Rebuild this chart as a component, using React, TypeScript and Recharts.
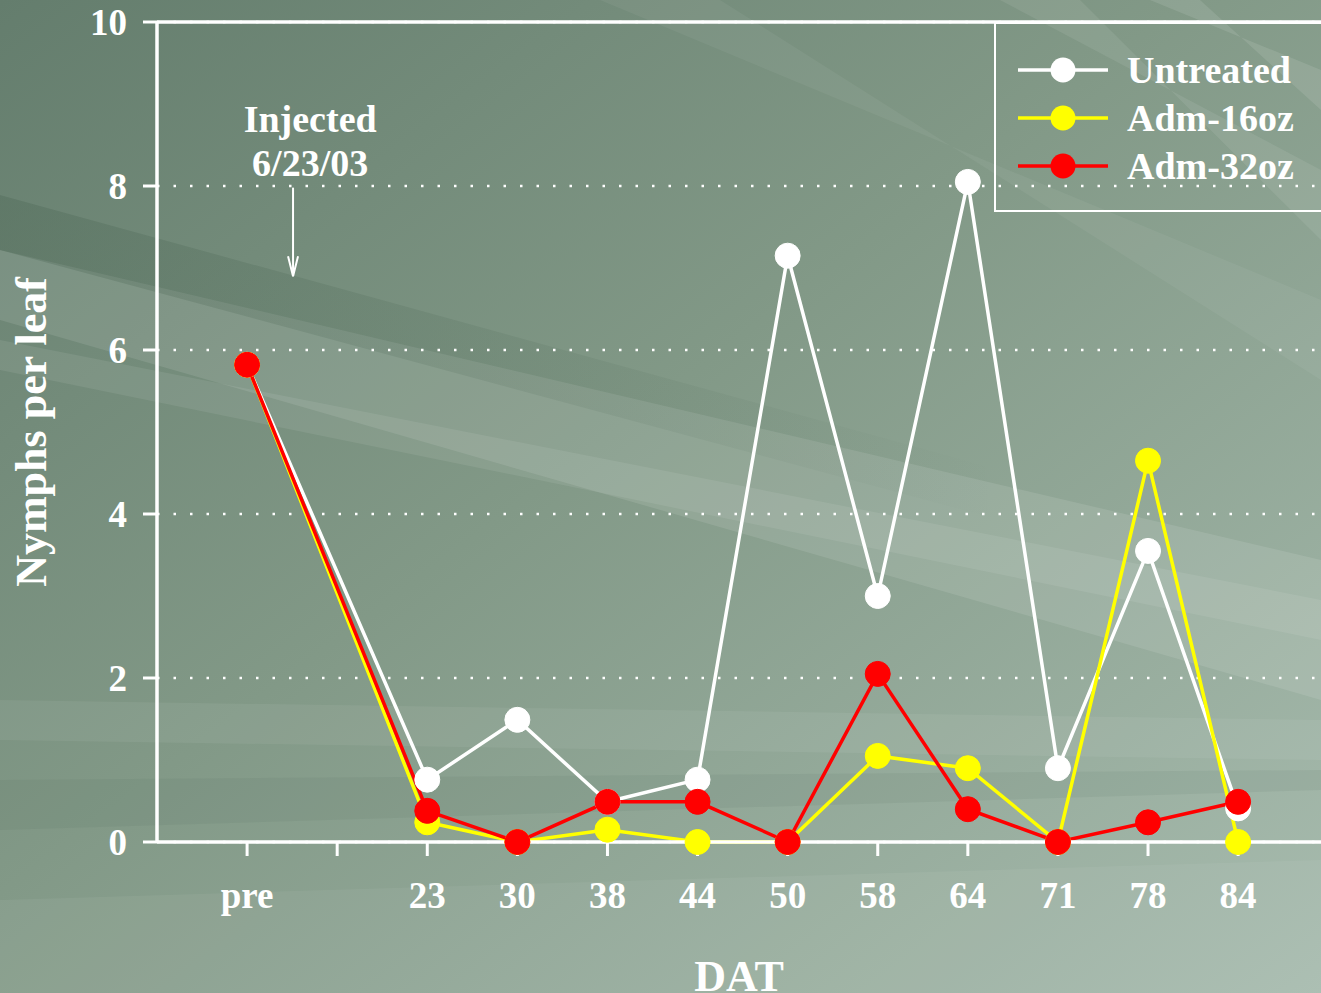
import React from "react";
import {
  LineChart,
  Line,
  XAxis,
  YAxis,
  CartesianGrid,
  Legend,
  ReferenceLine,
  ReferenceDot,
} from "recharts";

// x positions: 0 = pre, 1 = empty slot, 2.. = days after treatment
const tickLabels = ["pre", "", "23", "30", "38", "44", "50", "58", "64", "71", "78", "84"];
const pointIdx = [0, 2, 3, 4, 5, 6, 7, 8, 9, 10, 11];

const untreated = [5.82, 0.76, 1.49, 0.49, 0.76, 7.15, 3.0, 8.05, 0.9, 3.55, 0.41];
const adm16 = [5.82, 0.24, 0, 0.15, 0, 0, 1.05, 0.9, 0, 4.65, 0];
const adm32 = [5.82, 0.38, 0, 0.49, 0.49, 0, 2.05, 0.4, 0, 0.24, 0.49];

const yTicks = [0, 2, 4, 6, 8, 10];

const data = pointIdx.map((idx, i) => ({
  idx,
  untreated: untreated[i],
  adm16: adm16[i],
  adm32: adm32[i],
}));

const FONT = "'Liberation Serif', 'Times New Roman', serif";
const WHITE = "#ffffff";

const series = [
  { key: "untreated", name: "Untreated", color: "#ffffff" },
  { key: "adm16", name: "Adm-16oz", color: "#ffff00" },
  { key: "adm32", name: "Adm-32oz", color: "#ff0000" },
];

function LegendBox() {
  return (
    <div
      style={{
        border: "2px solid #fff",
        borderRight: "none",
        height: 190,
        boxSizing: "border-box",
        paddingTop: 22,
      }}
    >
      {series.map((s) => (
        <div
          key={s.key}
          style={{ display: "flex", alignItems: "center", height: 48 }}
        >
          <svg width={131} height={30} style={{ flex: "none" }}>
            <line x1={22} y1={15} x2={112} y2={15} stroke={s.color} strokeWidth={3.5} />
            <circle cx={67} cy={15} r={12.5} fill={s.color} />
          </svg>
          <span
            style={{
              color: "#fff",
              fontFamily: FONT,
              fontWeight: "bold",
              fontSize: 38,
              lineHeight: "48px",
            }}
          >
            {s.name}
          </span>
        </div>
      ))}
    </div>
  );
}

function Background() {
  return (
    <svg
      width={1321}
      height={993}
      style={{ position: "absolute", left: 0, top: 0 }}
    >
      <defs>
        <linearGradient id="bg" x1="0" y1="0" x2="1" y2="1">
          <stop offset="0" stopColor="#647d6d" />
          <stop offset="0.45" stopColor="#829987" />
          <stop offset="1" stopColor="#a8bcaf" />
        </linearGradient>
        <linearGradient id="fadeR" x1="0" y1="0" x2="1" y2="0">
          <stop offset="0" stopColor="#3f5a48" stopOpacity={0.25} />
          <stop offset="1" stopColor="#3f5a48" stopOpacity={0} />
        </linearGradient>
      </defs>
      <rect width={1321} height={993} fill="url(#bg)" />
      <polygon points="0,250 0,320 1321,700 1321,560" fill="#ffffff" opacity={0.1} />
      <polygon points="0,340 0,370 1321,640 1321,600" fill="#ffffff" opacity={0.08} />
      <polygon points="0,195 0,250 1000,520 1000,470" fill="url(#fadeR)" />
      <polygon points="0,700 0,740 1321,760 1321,720" fill="#ffffff" opacity={0.06} />
      <polygon points="0,780 0,830 1321,790 1321,770" fill="#3f5a48" opacity={0.08} />
      <polygon points="1000,0 1080,0 1321,240 1321,170" fill="#ffffff" opacity={0.08} />
      <polygon points="1150,0 1200,0 1321,110 1321,70" fill="#ffffff" opacity={0.1} />
      <polygon points="600,0 720,0 1321,380 1321,300" fill="#ffffff" opacity={0.05} />
      <polygon points="0,900 0,993 1321,993 1321,860" fill="#ffffff" opacity={0.05} />
    </svg>
  );
}

export default function App() {
  return (
    <div
      style={{
        position: "absolute",
        left: 0,
        top: 0,
        width: 1321,
        height: 993,
        overflow: "hidden",
      }}
    >
      <Background />
      <div style={{ position: "absolute", left: 0, top: 0 }}>
        <LineChart
          width={1321}
          height={993}
          data={data}
          margin={{ top: 22, right: 0, left: 0, bottom: 0 }}
        >
          <CartesianGrid
            vertical={false}
            stroke={WHITE}
            strokeWidth={2.5}
            strokeDasharray="2.5 14"
          />
          <XAxis
            dataKey="idx"
            type="number"
            domain={[-1, 11.92]}
            ticks={tickLabels.map((_, i) => i)}
            tickFormatter={(v: number) => tickLabels[v] ?? ""}
            allowDataOverflow
            height={151}
            axisLine={{ stroke: WHITE, strokeWidth: 3.5 }}
            tickLine={{ stroke: WHITE, strokeWidth: 3 }}
            tickSize={14}
            tickMargin={26}
            tick={{ fill: WHITE, fontFamily: FONT, fontWeight: "bold", fontSize: 37 }}
            label={{
              value: "DAT",
              position: "insideBottom",
              offset: 2,
              fill: WHITE,
              fontFamily: FONT,
              fontWeight: "bold",
              fontSize: 44,
            }}
          />
          <YAxis
            domain={[0, 10]}
            ticks={yTicks}
            width={157}
            axisLine={{ stroke: WHITE, strokeWidth: 3.5 }}
            tickLine={{ stroke: WHITE, strokeWidth: 3 }}
            tickSize={14}
            tickMargin={16}
            tick={{ fill: WHITE, fontFamily: FONT, fontWeight: "bold", fontSize: 37 }}
            label={{
              value: "Nymphs per leaf",
              angle: -90,
              position: "insideLeft",
              offset: 30,
              style: { textAnchor: "middle" },
              fill: WHITE,
              fontFamily: FONT,
              fontWeight: "bold",
              fontSize: 44,
            }}
          />
          <ReferenceLine y={10} stroke={WHITE} strokeWidth={3.5} />
          <ReferenceLine
            segment={[
              { x: 0.51, y: 7.98 },
              { x: 0.51, y: 6.9 },
            ]}
            stroke={WHITE}
            strokeWidth={2}
          />
          <ReferenceDot
            x={0.51}
            y={6.9}
            shape={(p: any) => (
              <polyline
                points={`${p.cx - 5},${p.cy - 20} ${p.cx},${p.cy} ${p.cx + 5},${p.cy - 20}`}
                fill="none"
                stroke={WHITE}
                strokeWidth={2}
              />
            )}
          />
          <ReferenceDot
            x={0.7}
            y={8.9}
            shape={(p: any) => (
              <g fill={WHITE} fontFamily={FONT} fontWeight="bold" fontSize={38} textAnchor="middle">
                <text x={p.cx} y={p.cy + 20}>Injected</text>
                <text x={p.cx} y={p.cy + 64}>6/23/03</text>
              </g>
            )}
          />
          {series.map((s) => (
            <Line
              key={s.key}
              dataKey={s.key}
              name={s.name}
              stroke={s.color}
              strokeWidth={3.5}
              dot={{ r: 12.5, fill: s.color, stroke: s.color, strokeWidth: 1 }}
              activeDot={false}
              isAnimationActive={false}
            />
          ))}
          <Legend
            layout="vertical"
            align="center"
            verticalAlign="middle"
            wrapperStyle={{ top: 22, left: 994, width: 340, height: 190 }}
            content={() => <LegendBox />}
          />
        </LineChart>
      </div>
    </div>
  );
}
